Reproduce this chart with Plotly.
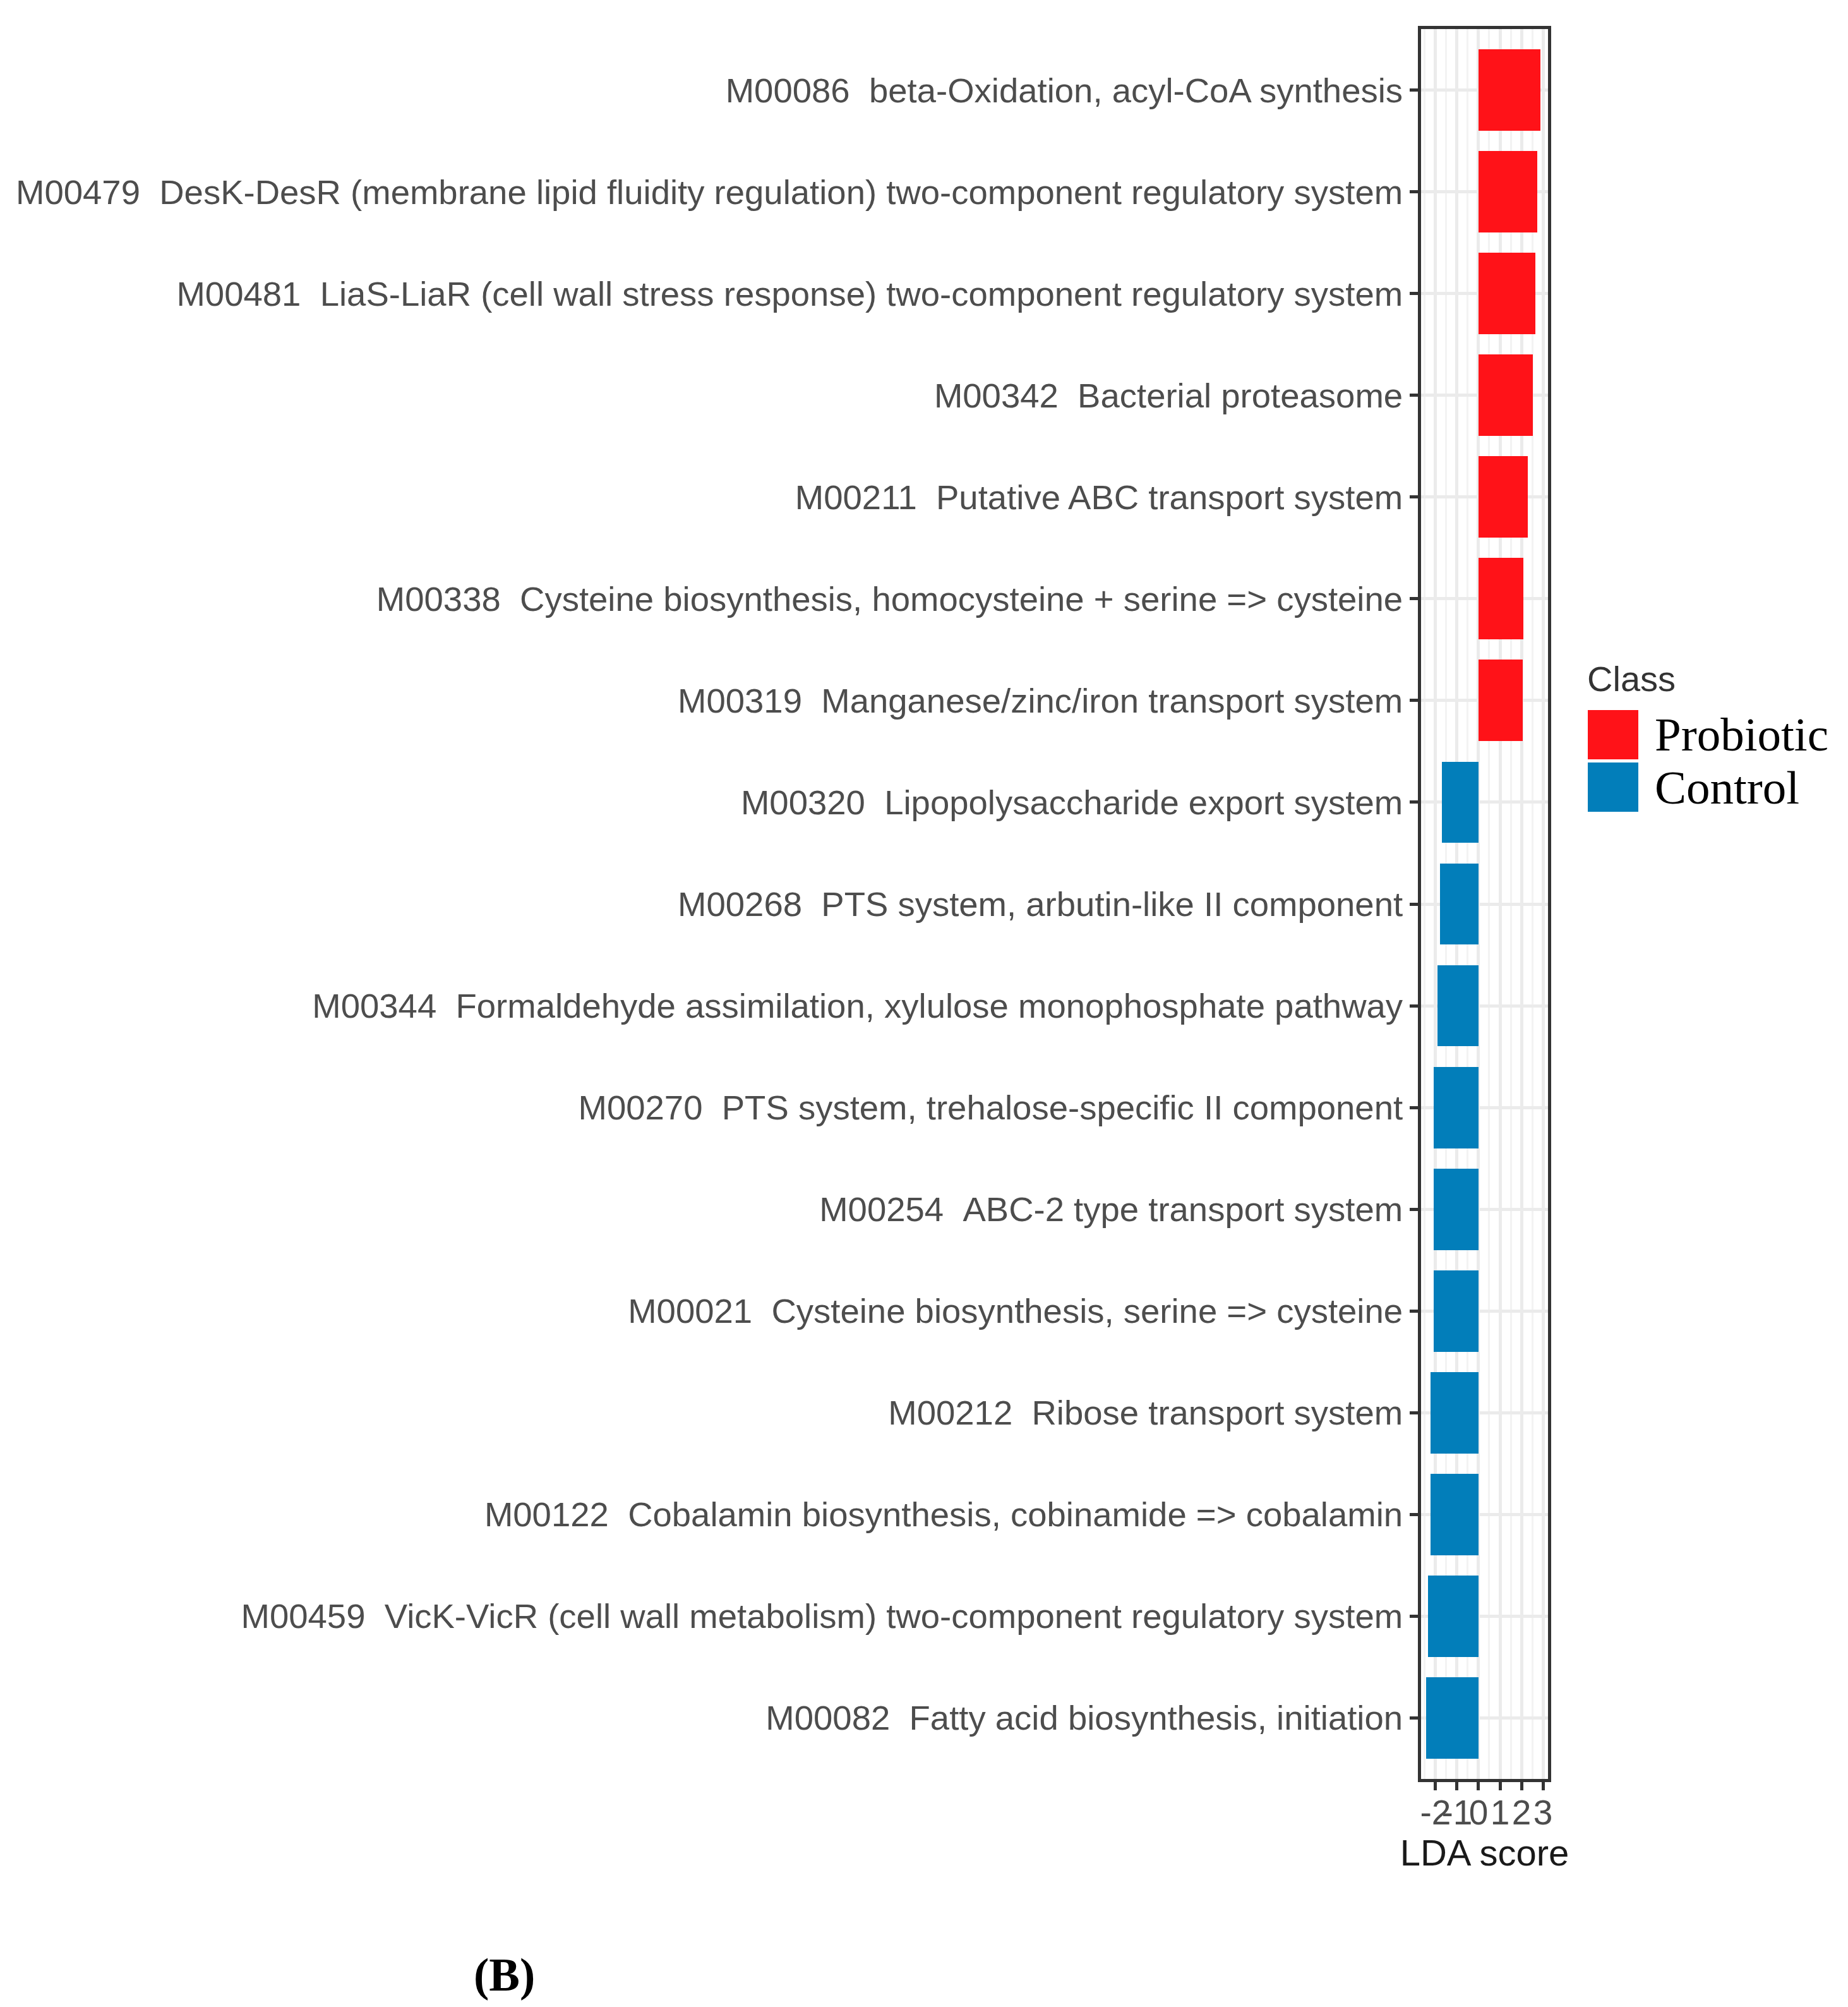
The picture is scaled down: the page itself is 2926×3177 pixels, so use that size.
import plotly.graph_objects as go

# ---------------- data ----------------
module_ids = ["M00086", "M00479", "M00481", "M00342", "M00211", "M00338", "M00319",
              "M00320", "M00268", "M00344", "M00270", "M00254", "M00021", "M00212",
              "M00122", "M00459", "M00082"]
module_names = [
    "beta-Oxidation, acyl-CoA synthesis",
    "DesK-DesR (membrane lipid fluidity regulation) two-component regulatory system",
    "LiaS-LiaR (cell wall stress response) two-component regulatory system",
    "Bacterial proteasome",
    "Putative ABC transport system",
    "Cysteine biosynthesis, homocysteine + serine => cysteine",
    "Manganese/zinc/iron transport system",
    "Lipopolysaccharide export system",
    "PTS system, arbutin-like II component",
    "Formaldehyde assimilation, xylulose monophosphate pathway",
    "PTS system, trehalose-specific II component",
    "ABC-2 type transport system",
    "Cysteine biosynthesis, serine => cysteine",
    "Ribose transport system",
    "Cobalamin biosynthesis, cobinamide => cobalamin",
    "VicK-VicR (cell wall metabolism) two-component regulatory system",
    "Fatty acid biosynthesis, initiation",
]
lda_scores = [2.88, 2.74, 2.65, 2.52, 2.30, 2.08, 2.07,
              -1.69, -1.80, -1.92, -2.07, -2.08, -2.09, -2.22, -2.23, -2.34, -2.44]
classes = ["Probiotic"] * 7 + ["Control"] * 10
class_order = ["Probiotic", "Control"]
class_colors = {"Probiotic": "#FF1218", "Control": "#027EBA"}
x_ticks = [-2, -1, 0, 1, 2, 3]
x_tick_text = ["-2", "-1", "0", "1", "2", "3"]

labels = [f"{i}\u00a0\u00a0{n}" for i, n in zip(module_ids, module_names)]

# ---------------- geometry (pixels) ----------------
W, H = 2926, 3177
PL, PR, PT, PB = 2242, 2443, 38, 2808  # panel box


def px_x(p):
    return (p - PL) / (PR - PL)


def px_y(p):
    return (PB - p) / (PB - PT)


fig = go.Figure()
for cls in class_order:
    xs = [s for s, c in zip(lda_scores, classes) if c == cls]
    ys = [l for l, c in zip(labels, classes) if c == cls]
    fig.add_trace(go.Bar(
        x=xs, y=ys, orientation="h", name=cls, width=0.8,
        marker=dict(color=class_colors[cls], line=dict(width=0)),
        showlegend=False,
    ))

axis_font = "Liberation Sans, Arial, sans-serif"
fig.update_layout(
    width=W, height=H,
    margin=dict(l=PL, r=W - PR, t=PT, b=H - PB, pad=0),
    paper_bgcolor="white", plot_bgcolor="white",
    bargap=0,
    font=dict(family=axis_font, color="#4D4D4D"),
)
fig.update_xaxes(
    range=[-2.67, 3.23], tickvals=x_ticks, ticktext=x_tick_text, tickangle=0,
    tickfont=dict(size=55, color="#4D4D4D", family=axis_font),
    ticks="outside", ticklen=13, tickwidth=5, tickcolor="#333333",
    ticklabelstandoff=-12,
    showgrid=True, gridcolor="#EBEBEB", gridwidth=5,
    minor=dict(dtick=0.5, tick0=0, showgrid=True, gridcolor="#F3F3F3", gridwidth=3, ticklen=0),
    zeroline=False,
    showline=True, mirror=True, linecolor="#333333", linewidth=5,
    title=dict(text="LDA score", font=dict(size=58, color="#1A1A1A", family=axis_font), standoff=12),
)
fig.update_yaxes(
    categoryorder="array", categoryarray=labels, range=[16.6, -0.6],
    tickfont=dict(size=54.5, color="#4D4D4D", family=axis_font),
    ticks="outside", ticklen=13, tickwidth=5, tickcolor="#333333",
    showgrid=True, gridcolor="#EBEBEB", gridwidth=5,
    zeroline=False,
    showline=True, mirror=True, linecolor="#333333", linewidth=5,
)

# ---------------- legend (drawn manually to match key size) ----------------
key_left, key_right = 2506, 2586
key_tops = [1116, 1199]
key_h = 78
for cls, top in zip(class_order, key_tops):
    fig.add_shape(type="rect", xref="paper", yref="paper",
                  x0=px_x(key_left), x1=px_x(key_right),
                  y0=px_y(top + key_h), y1=px_y(top),
                  fillcolor=class_colors[cls], line=dict(width=0), layer="above")
    fig.add_annotation(xref="paper", yref="paper", x=px_x(2610), y=px_y(top + key_h / 2),
                       xanchor="left", yanchor="middle", showarrow=False, text=cls,
                       font=dict(family="Liberation Serif, Times New Roman, serif", size=75, color="#000000"))
fig.add_annotation(xref="paper", yref="paper", x=px_x(2503), y=px_y(1067),
                   xanchor="left", yanchor="middle", showarrow=False, text="Class",
                   font=dict(family=axis_font, size=56, color="#333333"))

fig.add_annotation(xref="paper", yref="paper", x=px_x(790), y=px_y(3118),
                   xanchor="center", yanchor="middle", showarrow=False, text="<b>(B)</b>",
                   font=dict(family="Liberation Serif, Times New Roman, serif", size=73, color="#000000"))

fig.write_html("out.html")
